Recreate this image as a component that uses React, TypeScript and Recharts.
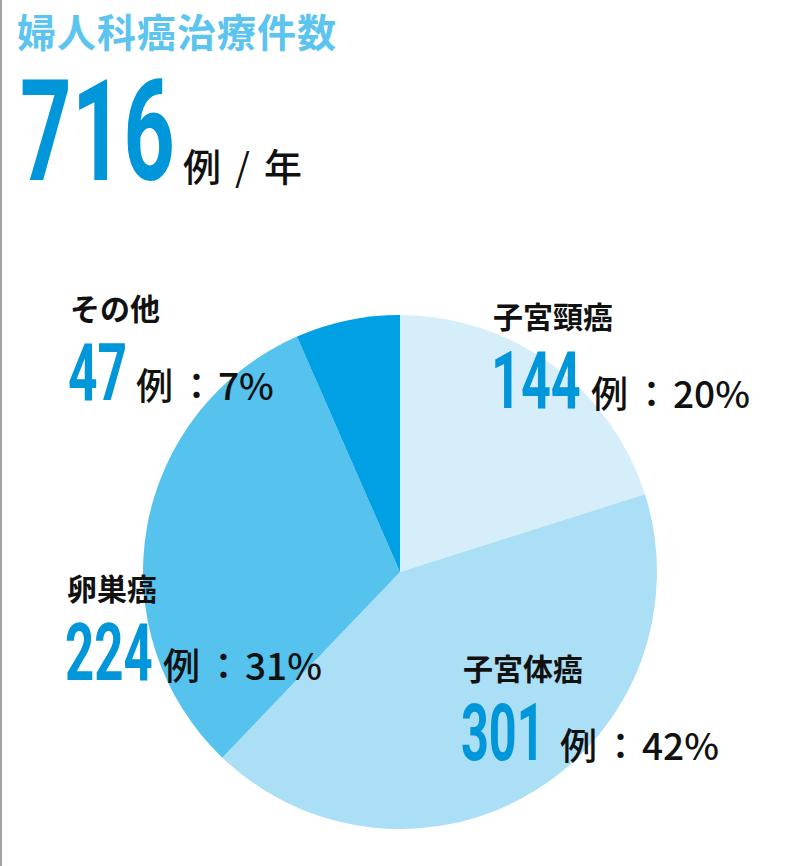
import React from 'react';
import { PieChart, Pie, Cell } from 'recharts';

// ---- data ----
const categories = ['子宮頸癌', '子宮体癌', '卵巣癌', 'その他'];
const counts = [144, 301, 224, 47];
const percentLabels = ['20%', '42%', '31%', '7%'];
const sliceColors = ['#d5eefa', '#abdff5', '#56c2ee', '#00a0e4'];
const titleText = '婦人科癌治療件数';
const totalCount = 716;
const unitWord = '例';
const perWord = '年';

// ---- layout (positions of the label blocks, not data) ----
const labelLayout = [
  { x: 493, nameBase: 328, numBase: 408, numW: 88, restX: 591 },
  { x: 463, nameBase: 680, numBase: 760, numW: 82, restX: 560 },
  { x: 67, nameBase: 600, numBase: 680, numW: 86, restX: 163 },
  { x: 70, nameBase: 320, numBase: 400, numW: 58, restX: 136 },
];

const pieData = categories.map((name, i) => ({ name, value: counts[i] }));

const CJK = '"Noto Sans CJK JP", "Noto Sans", sans-serif';
const NUM = 'Roboto, "Liberation Sans", sans-serif';
const BLUE = '#0096da';
const DIGIT_ADV = 0.5625; // Roboto tabular digit advance (em)

function CondensedNumber({ value, x, y, size, width }: { value: string; x: number; y: number; size: number; width: number }) {
  const sx = width / (value.length * DIGIT_ADV * size);
  return (
    <text transform={`translate(${x},${y}) scale(${sx},1)`} fontFamily={NUM} fontWeight={700} fontSize={size} fill={BLUE}>
      {value}
    </text>
  );
}

export default function App() {
  return (
    <div style={{ position: 'absolute', left: 0, top: 0, width: 800, height: 866, background: '#fff', overflow: 'hidden' }}>
      <div style={{ position: 'absolute', left: 0, top: 0, width: 2, height: 866, background: '#a3a3a3' }} />
      <div style={{ position: 'absolute', left: 0, top: 0 }}>
        <PieChart width={800} height={866} margin={{ top: 0, right: 0, bottom: 0, left: 0 }}>
          <Pie
            data={pieData}
            dataKey="value"
            nameKey="name"
            cx={400}
            cy={572}
            outerRadius={257}
            startAngle={90}
            endAngle={-270}
            stroke="none"
            isAnimationActive={false}
          >
            {pieData.map((d, i) => (
              <Cell key={d.name} fill={sliceColors[i]} />
            ))}
          </Pie>
        </PieChart>
      </div>
      <svg width={800} height={866} style={{ position: 'absolute', left: 0, top: 0, pointerEvents: 'none' }}>
        <text x={17} y={47} fontFamily={CJK} fontWeight={700} fontSize={39} fill="#5bc4ef" letterSpacing={1}>
          {titleText}
        </text>
        <CondensedNumber value={String(totalCount)} x={20} y={180} size={141} width={152} />
        <text x={183} y={181} fontFamily={CJK} fontWeight={500} fontSize={38} fill="#111">{unitWord}</text>
        <text x={235} y={181} fontFamily={CJK} fontWeight={400} fontSize={38} fill="#111">/</text>
        <text x={264} y={181} fontFamily={CJK} fontWeight={500} fontSize={38} fill="#111">{perWord}</text>
        {categories.map((name, i) => {
          const L = labelLayout[i];
          return (
            <g key={name}>
              <text x={L.x} y={L.nameBase} fontFamily={CJK} fontWeight={700} fontSize={30} fill="#111">{name}</text>
              <CondensedNumber value={String(counts[i])} x={L.x - 2} y={L.numBase} size={80} width={L.numW} />
              <text x={L.restX} y={L.numBase} fontFamily={CJK} fontWeight={500} fontSize={37} fill="#111">
                <tspan>{unitWord}</tspan>
                <tspan dx={5}>{'：'}</tspan>
                <tspan dx={3}>{percentLabels[i]}</tspan>
              </text>
            </g>
          );
        })}
      </svg>
    </div>
  );
}
